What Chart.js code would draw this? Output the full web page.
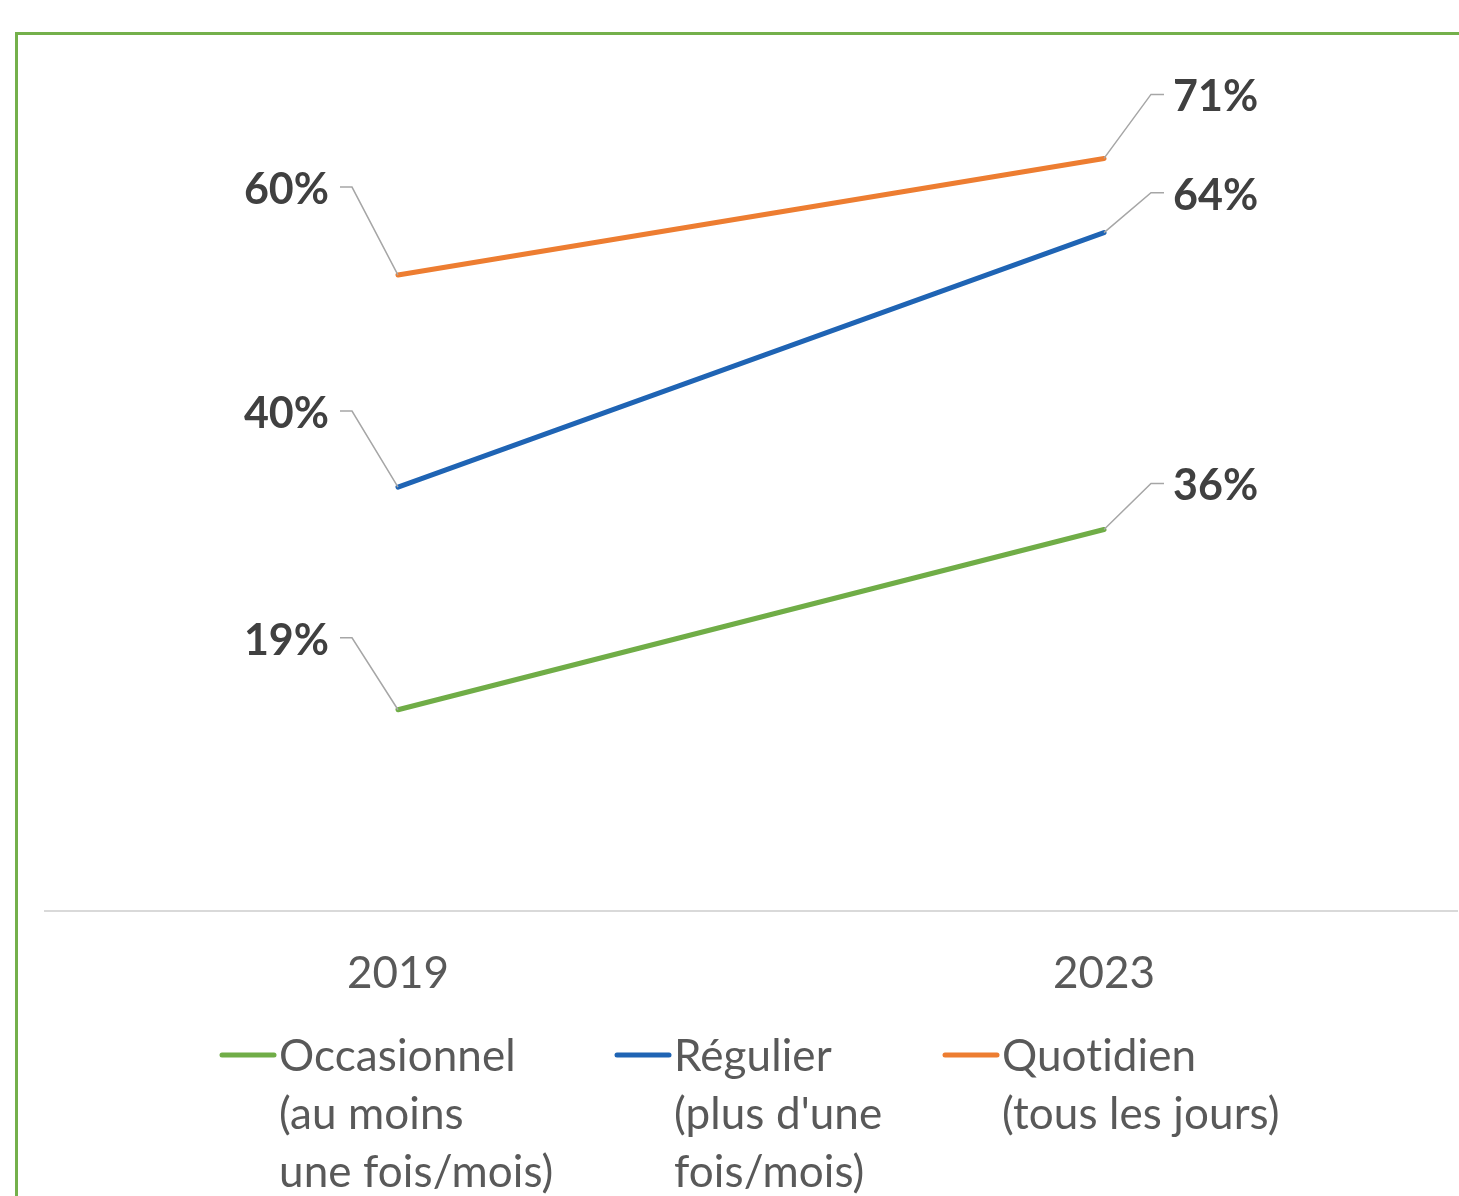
<!DOCTYPE html>
<html>
<head>
<meta charset="utf-8">
<script src="https://cdn.jsdelivr.net/npm/chart.js@4.4.0/dist/chart.umd.min.js"></script>
<style>
  html, body { margin: 0; padding: 0; background: #fff; }
  #wrap { width: 1459px; height: 1196px; }
</style>
</head>
<body>
<div id="wrap"><canvas id="chart" width="1459" height="1196"></canvas></div>
<script>
const years = ["2019", "2023"]
const occasionnel = [19, 36]
const regulier = [40, 64]
const quotidien = [60, 71]
const seriesNames = [
  ["Occasionnel", "(au moins", "une fois/mois)"],
  ["Régulier", "(plus d'une", "fois/mois)"],
  ["Quotidien", "(tous les jours)"]
]
const seriesColors = ["#70AD47", "#1F64B4", "#ED7D31"]

// how far above its point each data label sits (px), per series, per year
const labelLift = [[72, 46], [76, 40], [88, 64]]
const legendX = [220, 615, 943]

const FONT = "Lato, 'Open Sans', sans-serif"

const framePlugin = {
  id: "frame",
  beforeDraw(chart) {
    const ctx = chart.ctx
    ctx.save()
    ctx.strokeStyle = "#74B04B"
    ctx.lineWidth = 3
    ctx.beginPath()
    ctx.moveTo(16.5, chart.height)
    ctx.lineTo(16.5, 33.5)
    ctx.lineTo(chart.width, 33.5)
    ctx.stroke()
    ctx.restore()
  }
}

const labelPlugin = {
  id: "leaderLabels",
  afterDatasetsDraw(chart) {
    const ctx = chart.ctx
    ctx.save()
    ctx.font = "bold 43px " + FONT
    ctx.fillStyle = "#404040"
    ctx.textBaseline = "middle"
    chart.data.datasets.forEach((ds, i) => {
      const meta = chart.getDatasetMeta(i)
      meta.data.forEach((pt, j) => {
        const ly = pt.y - labelLift[i][j]
        const left = j === 0
        const elbowX = left ? pt.x - 46 : pt.x + 47
        const endX = left ? pt.x - 58 : pt.x + 60
        ctx.strokeStyle = "#A6A6A6"
        ctx.lineWidth = 1.5
        ctx.beginPath()
        ctx.moveTo(pt.x, pt.y)
        ctx.lineTo(elbowX, ly)
        ctx.lineTo(endX, ly)
        ctx.stroke()
        ctx.textAlign = left ? "right" : "left"
        ctx.fillText(ds.data[j] + "%", left ? endX - 11 : endX + 9, ly + 3)
      })
    })
    ctx.restore()
  }
}

const legendPlugin = {
  id: "multiLegend",
  afterDraw(chart) {
    const ctx = chart.ctx
    ctx.save()
    ctx.font = "44px " + FONT
    ctx.letterSpacing = "0.1px"
    ctx.fillStyle = "#595959"
    ctx.textBaseline = "middle"
    ctx.textAlign = "left"
    seriesNames.forEach((lines, i) => {
      const x = legendX[i]
      const y = 1055
      ctx.strokeStyle = seriesColors[i]
      ctx.lineWidth = 5
      ctx.lineCap = "round"
      ctx.beginPath()
      ctx.moveTo(x + 2, y)
      ctx.lineTo(x + 54, y)
      ctx.stroke()
      lines.forEach((t, k) => {
        ctx.fillText(t, x + 59, y + 2 + k * 58)
      })
    })
    ctx.restore()
  }
}

new Chart(document.getElementById("chart"), {
  type: "line",
  data: {
    labels: years,
    datasets: [
      { label: seriesNames[0].join(" "), data: occasionnel, borderColor: seriesColors[0] },
      { label: seriesNames[1].join(" "), data: regulier, borderColor: seriesColors[1] },
      { label: seriesNames[2].join(" "), data: quotidien, borderColor: seriesColors[2] }
    ].map(d => Object.assign(d, { borderWidth: 5, pointRadius: 0, tension: 0, borderCapStyle: "round" }))
  },
  options: {
    responsive: false,
    animation: false,
    layout: { padding: { left: 45, right: 2, top: 63, bottom: 160 } },
    plugins: {
      legend: { display: false },
      tooltip: { enabled: false }
    },
    scales: {
      x: {
        offset: true,
        grid: { display: false, drawTicks: false },
        border: { display: true, color: "#D9D9D9", width: 2 },
        ticks: { color: "#595959", font: { size: 44, family: FONT }, padding: 36 }
      },
      y: {
        display: false,
        min: 0,
        max: 80
      }
    }
  },
  plugins: [framePlugin, labelPlugin, legendPlugin]
})
</script>
</body>
</html>
